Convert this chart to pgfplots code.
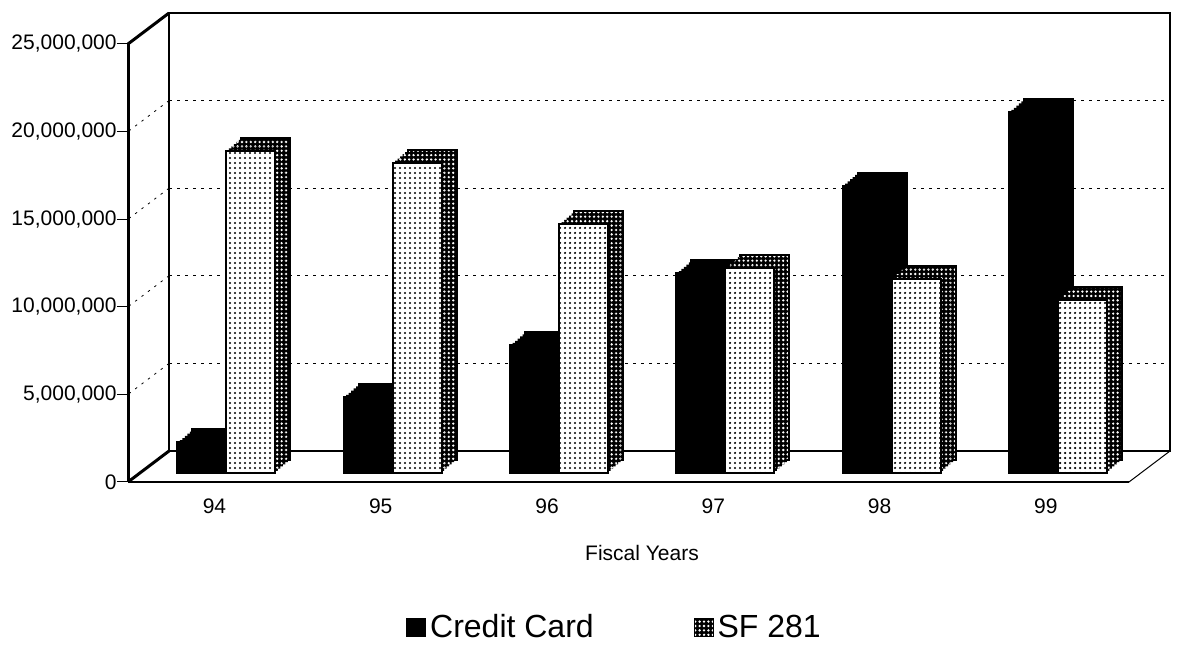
\documentclass[border=0pt]{standalone}
\usepackage{fontspec}
\setmainfont{Liberation Sans}
\usepackage{pgfplots}
\pgfplotsset{compat=1.18}
\usepackage{pgfplotstable}
\usetikzlibrary{patterns}

% dot patterns of the SF 281 bars
\pgfdeclarepatternformonly{fdots}{\pgfqpoint{-1pt}{-1pt}}{\pgfqpoint{1pt}{1pt}}{\pgfqpoint{2.5pt}{2.5pt}}{\pgfpathcircle{\pgfpointorigin}{0.62pt}\pgfusepath{fill}}
\pgfdeclarepatternformonly{holes}{\pgfqpoint{-1pt}{-1pt}}{\pgfqpoint{1pt}{1pt}}{\pgfqpoint{2.2pt}{2.2pt}}{\pgfpathcircle{\pgfpointorigin}{0.65pt}\pgfusepath{fill}}

\pgfplotstableread{
yr cc sf
0 1.75e6 18.4e6
1 4.33e6 17.7e6
2 7.3e6  14.2e6
3 11.4e6 11.7e6
4 16.4e6 11.1e6
5 20.6e6 9.9e6
}\fiscal

\pgfplotsset{
  base/.style={scale only axis, width=500.5pt, height=219pt,
    xmin=-0.52, xmax=5.5, ymin=0, ymax=25e6, anchor=south west, clip=false,
    scaled y ticks=false},
  layer/.style={base, hide axis},
  ccbar/.style={ybar, bar width=24.5pt, bar shift=-12.25pt, fill=black},
  sfbar/.style={ybar, bar width=24.5pt, bar shift=12.25pt},
}
\newcommand\tickfont{\fontsize{10.5}{12}\selectfont}

\begin{document}
\begin{tikzpicture}
\useasboundingbox (0,0) rectangle (589pt,324pt);

% back wall
\begin{axis}[base, name=wall, at={(84.5pt,98.5pt)},
  xtick=\empty, ytick={5e6,10e6,15e6,20e6}, yticklabels={},
  major tick length=0pt, ymajorgrids,
  grid style={black, line width=0.5pt, dash pattern=on 1.5pt off 2.5pt},
  axis line style={line width=1pt}]
  \pgfplotsinvokeforeach{5e6,10e6,15e6,20e6}{
    \draw[line width=0.4pt, dash pattern=on 1.2pt off 2.8pt] (axis cs:-0.52,#1) -- ++(-20.5pt,-15.5pt);
  }
\end{axis}

% front edges, ticks, labels and legend
\begin{axis}[base, name=front, at={(64pt,83pt)},
  axis x line*=bottom, axis y line*=left,
  x axis line style={line width=1pt}, y axis line style={line width=1.5pt},
  xtick={0,1,2,3,4,5}, xticklabels={94,95,96,97,98,99},
  x tick style={draw=none},
  ytick={0,5e6,10e6,15e6,20e6,25e6},
  yticklabels={0,{5,000,000},{10,000,000},{15,000,000},{20,000,000},{25,000,000}},
  y tick style={line width=0.5pt, black},
  tick align=outside, major tick length=5.5pt,
  tick label style={font=\tickfont},
  yticklabel style={inner sep=0pt},
  xticklabel style={yshift=0.75pt},
  xlabel={Fiscal Years},
  xlabel style={at={(rel axis cs:0.5,0)}, anchor=center, xshift=6.75pt, yshift=-35.5pt, font=\tickfont},
  legend columns=2,
  legend image code/.code={\draw[#1] (0pt,-4.5pt) rectangle (9.5pt,4.5pt);},
  legend style={at={(0.2777,-0.333)}, anchor=west, draw=none, fill=none,
    font=\fontsize{16}{19}\selectfont, inner sep=0pt,
    /tikz/every even column/.append style={column sep=48pt}}]
  \addlegendimage{fill=black, draw=black}
  \addlegendentry{Credit Card}
  \addlegendimage{fill=black, draw=black, postaction={pattern=holes, pattern color=white}}
  \addlegendentry{SF 281}
\end{axis}
\draw[line width=1.5pt] (front.north west) -- (wall.north west);
\draw[line width=1.5pt] (front.south west) -- (wall.south west);
\draw[line width=0.5pt] (front.south east) -- (wall.south east);

% depth of the bars: back face with outline, then fill-only slices
\begin{axis}[layer, at={(77.5pt,94pt)}]
  \addplot[ccbar, draw=black, line width=1pt] table[x=yr, y=cc] {\fiscal};
  \addplot[sfbar, fill=black, draw=black, line width=1pt, postaction={pattern=holes, pattern color=white}] table[x=yr, y=sf] {\fiscal};
\end{axis}
\foreach \k in {5,4,3,2,1} {
  \begin{axis}[layer, at={({70pt+\k*1.25pt},{87.5pt+\k*1.0833pt})}]
    \addplot[ccbar, draw=none] table[x=yr, y=cc] {\fiscal};
    \addplot[sfbar, fill=black, draw=none, postaction={pattern=holes, pattern color=white}] table[x=yr, y=sf] {\fiscal};
  \end{axis}
}
% front faces
\begin{axis}[layer, at={(70pt,87.5pt)}]
  \addplot[ccbar, draw=black, line width=1pt] table[x=yr, y=cc] {\fiscal};
  \addplot[sfbar, fill=white, draw=black, line width=1pt, postaction={pattern=fdots}] table[x=yr, y=sf] {\fiscal};
\end{axis}
\end{tikzpicture}
\end{document}
